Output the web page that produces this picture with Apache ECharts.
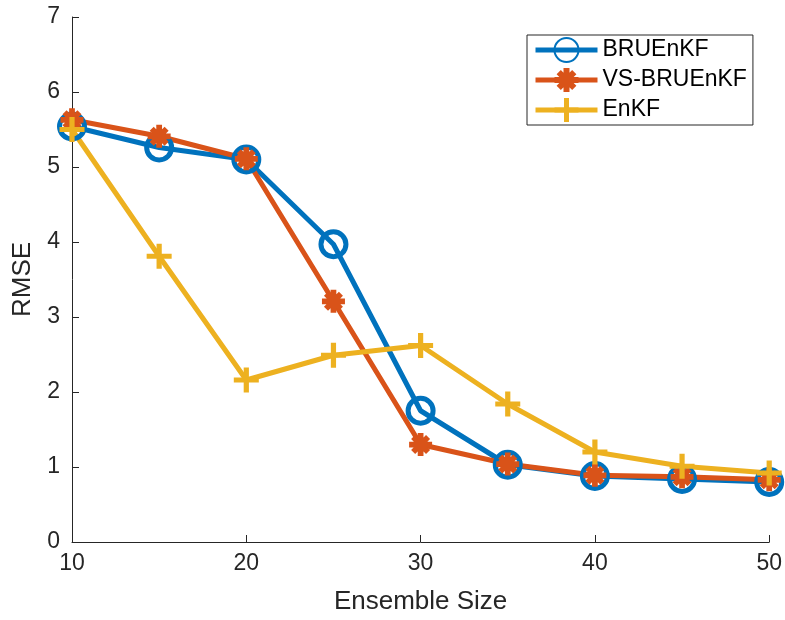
<!DOCTYPE html>
<html><head><meta charset="utf-8">
<script src="https://cdn.jsdelivr.net/npm/echarts@6/dist/echarts.min.js"></script>
<style>html,body{margin:0;padding:0;background:#fff}#c{width:785px;height:620px}</style>
</head><body><div id="c"></div>
<script>
const ensembleSizes = [10, 15, 20, 25, 30, 35, 40, 45, 50];
const bruenkf = [5.54, 5.26, 5.10, 3.97, 1.75, 1.03, 0.88, 0.84, 0.80];
const vsBruenkf = [5.63, 5.41, 5.11, 3.21, 1.30, 1.04, 0.89, 0.87, 0.83];
const enkf = [5.50, 3.81, 2.16, 2.49, 2.62, 1.84, 1.20, 1.01, 0.92];
const seriesNames = ['BRUEnKF', 'VS-BRUEnKF', 'EnKF'];
const colors = ['#0072BD', '#D95319', '#EDB120'];

const asterisk = 'path://M0 9L24 9L24 15L0 15Z M9 0L15 0L15 24L9 24Z M6.34 2.10L21.9 17.66L17.66 21.9L2.10 6.34Z M2.10 17.66L17.66 2.10L21.9 6.34L6.34 21.9Z';
const plus = 'path://M9.5 0L14.5 0L14.5 9.5L24 9.5L24 14.5L14.5 14.5L14.5 24L9.5 24L9.5 14.5L0 14.5L0 9.5L9.5 9.5Z';

function pairs(vals){ return ensembleSizes.map((x,i)=>[x, vals[i]]); }
const font = 'Liberation Sans, Arial, sans-serif';

const chart = echarts.init(document.getElementById('c'));
chart.setOption({
  animation: false,
  grid: {left: 72, right: 15, top: 17, bottom: 77},
  xAxis: {
    type: 'value', min: 10, max: 50, interval: 10,
    name: 'Ensemble Size', nameLocation: 'middle', nameGap: 47,
    nameTextStyle: {fontFamily: font, fontSize: 26, color: '#262626'},
    axisLine: {lineStyle: {color: '#262626', width: 1}},
    axisTick: {inside: true, length: 7, lineStyle: {color: '#262626'}},
    axisLabel: {fontFamily: font, fontSize: 23, color: '#262626', margin: 10},
    splitLine: {show: false}
  },
  yAxis: {
    type: 'value', min: 0, max: 7, interval: 1,
    name: 'RMSE', nameLocation: 'middle', nameGap: 36,
    nameTextStyle: {fontFamily: font, fontSize: 26, color: '#262626'},
    axisLine: {show: true, lineStyle: {color: '#262626', width: 1}},
    axisTick: {show: true, inside: true, length: 7, lineStyle: {color: '#262626'}},
    axisLabel: {fontFamily: font, fontSize: 23, color: '#262626', margin: 12},
    splitLine: {show: false}
  },
  legend: {
    orient: 'vertical', left: 527, top: 35,
    padding: [0, 6, 0, 6],
    itemWidth: 62, itemHeight: 30, itemGap: 0,
    backgroundColor: '#fff', borderColor: '#262626', borderWidth: 1,
    textStyle: {fontFamily: font, fontSize: 23, color: '#000', lineHeight: 30},
    lineStyle: {width: 5},
    data: seriesNames
  },
  series: [
    {
      name: seriesNames[0], type: 'line', data: pairs(bruenkf),
      symbol: 'circle', symbolSize: 25,
      lineStyle: {color: colors[0], width: 5},
      itemStyle: {color: 'rgba(0,0,0,0)', borderColor: colors[0], borderWidth: 5}
    },
    {
      name: seriesNames[1], type: 'line', data: pairs(vsBruenkf),
      symbol: asterisk, symbolSize: 23,
      lineStyle: {color: colors[1], width: 5},
      itemStyle: {color: colors[1]}
    },
    {
      name: seriesNames[2], type: 'line', data: pairs(enkf),
      symbol: plus, symbolSize: 25,
      lineStyle: {color: colors[2], width: 5},
      itemStyle: {color: colors[2]}
    }
  ]
});
</script></body></html>
